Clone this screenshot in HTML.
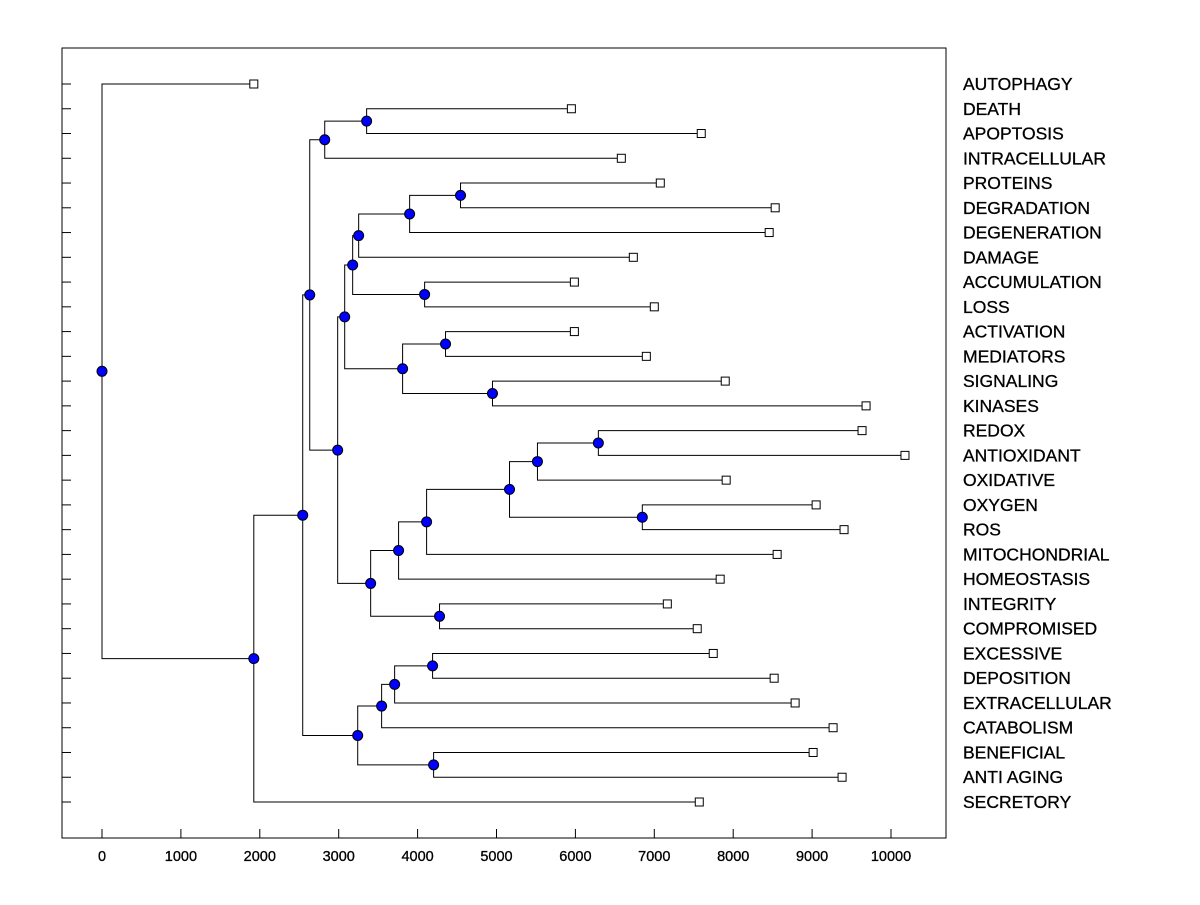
<!DOCTYPE html>
<html><head><meta charset="utf-8"><style>body{margin:0;background:#fff}svg text{font-family:"Liberation Sans",Arial,sans-serif}</style></head>
<body>
<svg id="chart" width="1200" height="900" xmlns="http://www.w3.org/2000/svg">
<rect x="62" y="48" width="884" height="790" fill="#fff" stroke="#000" stroke-width="1"/>
<g id="g"></g>
</svg>
<script>
const leafNames = ["AUTOPHAGY","DEATH","APOPTOSIS","INTRACELLULAR","PROTEINS","DEGRADATION","DEGENERATION","DAMAGE","ACCUMULATION","LOSS","ACTIVATION","MEDIATORS","SIGNALING","KINASES","REDOX","ANTIOXIDANT","OXIDATIVE","OXYGEN","ROS","MITOCHONDRIAL","HOMEOSTASIS","INTEGRITY","COMPROMISED","EXCESSIVE","DEPOSITION","EXTRACELLULAR","CATABOLISM","BENEFICIAL","ANTI AGING","SECRETORY"];
const leafHeights = [1924,5949,7595,6582,7076,8532,8456,6734,5987,7000,5987,6899,7899,9684,9633,10177,7911,9051,9405,8557,7835,7165,7544,7747,8519,8785,9266,9013,9380,7570];
// merges: [childA, childB, height]; leaves are "L<i>", internal nodes "N<i>"
const merges = [
 ["L1","L2",3354],["N0","L3",2823],
 ["L4","L5",4544],["N2","L6",3899],["N3","L7",3253],
 ["L8","L9",4089],["N4","N5",3177],
 ["L10","L11",4354],["L12","L13",4949],["N7","N8",3810],["N6","N9",3076],
 ["L14","L15",6291],["N11","L16",5519],["L17","L18",6848],["N12","N13",5165],
 ["N14","L19",4114],["N15","L20",3759],["L21","L22",4278],["N16","N17",3405],
 ["N10","N18",2987],["N1","N19",2633],
 ["L23","L24",4190],["N21","L25",3709],["N22","L26",3544],["L27","L28",4203],["N23","N24",3241],
 ["N20","N25",2544],["N26","L29",1924],["L0","N27",0]
];
const xTicks = [0,1000,2000,3000,4000,5000,6000,7000,8000,9000,10000];
const X = v => 102 + v*0.0789;
const rowY = i => 84 + i*((802-84)/(leafNames.length-1));
const g = document.getElementById('g');
const NS = "http://www.w3.org/2000/svg";
function mk(t,a){const e=document.createElementNS(NS,t);for(const k in a)e.setAttribute(k,a[k]);g.appendChild(e);return e;}
xTicks.forEach(v=>{
 const l=mk('line',{x1:X(v),x2:X(v),y1:838,y2:829,stroke:'#000'});
 
 
 const t=mk('text',{x:X(v),y:861,'text-anchor':'middle','font-size':'14.5','stroke':'#000','stroke-width':'0.3'});
 t.textContent=v;
 
 
});
leafNames.forEach((n,i)=>{
 const y=rowY(i);
 const l=mk('line',{x1:62,x2:71,y1:y,y2:y,stroke:'#000'});
 
 
 const t=mk('text',{x:963,y:y+6,'font-size':'17.5','stroke':'#000','stroke-width':'0.3'});
 t.textContent=n;
 
 
});
const pos={};
leafNames.forEach((n,i)=>{pos['L'+i]={x:X(leafHeights[i]),y:rowY(i)};});
const dots=[];
merges.forEach((m,i)=>{
 const a=pos[m[0]],b=pos[m[1]],x=X(m[2]),y=(a.y+b.y)/2;
 const p=mk('path',{d:`M${a.x} ${a.y}H${x}V${b.y}H${b.x}`,fill:'none',stroke:'#000','stroke-width':1});
 
 
 pos['N'+i]={x:x,y:y};dots.push([x,y]);
});
leafNames.forEach((n,i)=>{
 const p=pos['L'+i];
 const r=mk('rect',{x:p.x-4,y:p.y-4,width:8,height:8,fill:'#fff',stroke:'#000'});
 
 
});
dots.forEach(d=>{
 const c=mk('circle',{cx:d[0],cy:d[1],r:5,fill:'#0000ff',stroke:'#000'});
 
 
});
</script>
</body></html>
